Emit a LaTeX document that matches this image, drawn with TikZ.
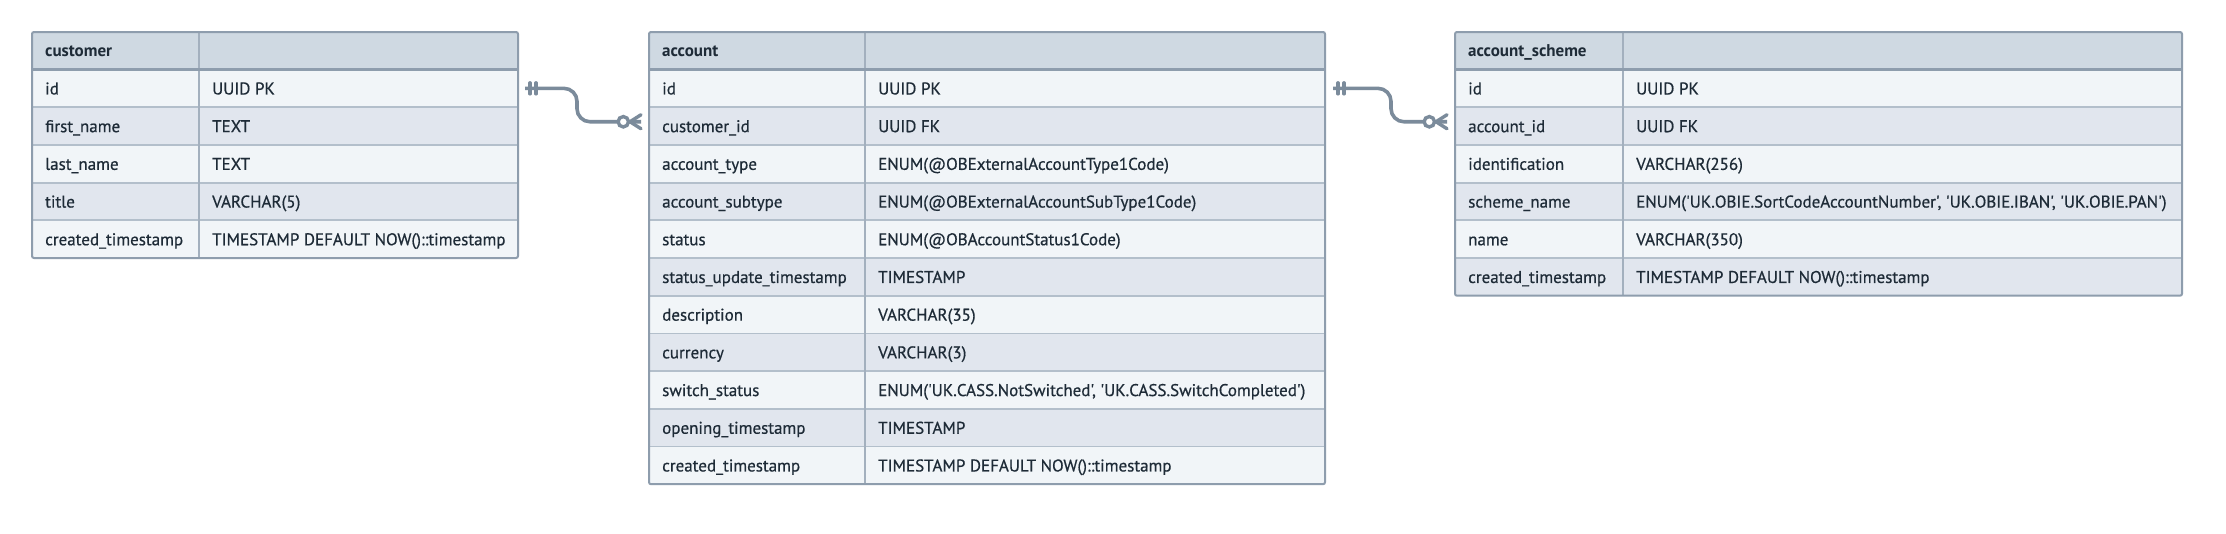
\documentclass[tikz,border=0pt]{standalone}
\usepackage{fontspec}
\newfontfamily\erfont{PT Sans}
\newfontfamily\erfontm[FakeBold=0.6]{PT Sans}
\usetikzlibrary{calc}
\definecolor{hdr}{HTML}{CFD9E2}
\definecolor{rowa}{HTML}{F1F5F8}
\definecolor{rowb}{HTML}{E1E6EE}
\definecolor{bord}{HTML}{8E9DAD}
\definecolor{sepc}{HTML}{B3BFCB}
\definecolor{divc}{HTML}{A3B0BE}
\definecolor{ink}{HTML}{1E2B37}
\definecolor{connc}{HTML}{7B8B9B}
\tikzset{
 cell/.style={rectangle, inner sep=0pt, outer sep=0pt, anchor=north west, minimum height=37.7pt, draw=none},
 txt/.style={anchor=base west, inner sep=0pt, text=ink, font=\erfontm\fontsize{17}{20}\selectfont},
 htxt/.style={txt, font=\erfont\bfseries\fontsize{17}{20}\selectfont},
 rsep/.style={draw=sepc, line width=1.8pt},
 hsep/.style={draw=bord, line width=2.4pt},
 coldiv/.style={draw=divc, line width=2pt},
 tborder/.style={draw=bord, line width=2pt, rounded corners=2pt},
 conn/.style={draw=connc, line width=3.6pt},
 tick/.style={draw=connc, line width=3.4pt, line cap=round},
 ring/.style={draw=connc, fill=white, line width=3.4pt},
}
% #1 name, #2 x0, #3 xd, #4 x1, #5 y0, #6 title, #7 n rows, #8 rows
\newcommand\ertable[8]{%
 \node[cell, fill=hdr, minimum width={#3pt-#2pt}, minimum height=37.5pt] (#1-k0) at (#2,#5) {};
 \node[cell, fill=hdr, minimum width={#4pt-#3pt}, minimum height=37.5pt] (#1-v0) at (#3,#5) {};
 \node[htxt] (#1-t0) at ([xshift=13pt,yshift=-6.1pt]#1-k0.west) {#6};
 \foreach \i/\k/\v in {#8} {
   \pgfmathsetmacro\yy{#5+37.5+(\i-1)*37.7}
   \pgfmathtruncatemacro\odd{mod(\i,2)}
   \ifnum\odd=1 \def\rf{rowa}\else\def\rf{rowb}\fi
   \node[cell, fill=\rf, minimum width={#3pt-#2pt}] (#1-k\i) at (#2,\yy) {};
   \node[cell, fill=\rf, minimum width={#4pt-#3pt}] (#1-v\i) at (#3,\yy) {};
   \node[txt] (#1-tk\i) at ([xshift=13pt,yshift=-6.1pt]#1-k\i.west) {\k};
   \node[txt] (#1-tv\i) at ([xshift=13pt,yshift=-6.1pt]#1-v\i.west) {\v};
 }
 \foreach \i in {2,...,#7} {\draw[rsep] (#1-k\i.north west) -- (#1-v\i.north east);}
 \draw[coldiv] (#1-k0.north east) -- (#1-k#7.south east);
 \draw[hsep] (#1-k0.south west) -- (#1-v0.south east);
 \draw[tborder] (#1-k0.north west) rectangle (#1-v#7.south east);
}
\begin{document}
\begin{tikzpicture}[x=1pt,y=-1pt]
\useasboundingbox[fill=white] (0,0) rectangle (2226,533);

\ertable{cust}{32}{199}{518}{32}{customer}{5}{%
 1/id/UUID PK,
 2/first\_name/TEXT,
 3/last\_name/TEXT,
 4/title/VARCHAR(5),
 5/created\_timestamp/TIMESTAMP DEFAULT NOW()::timestamp}

\ertable{acc}{649}{865}{1325}{32}{account}{11}{%
 1/id/UUID PK,
 2/customer\_id/UUID FK,
 3/account\_type/ENUM(@OBExternalAccountType1Code),
 4/account\_subtype/ENUM(@OBExternalAccountSubType1Code),
 5/status/ENUM(@OBAccountStatus1Code),
 6/status\_update\_timestamp/TIMESTAMP,
 7/description/VARCHAR(35),
 8/currency/VARCHAR(3),
 9/switch\_status/{ENUM('UK.CASS.NotSwitched', 'UK.CASS.SwitchCompleted')},
 10/opening\_timestamp/TIMESTAMP,
 11/created\_timestamp/TIMESTAMP DEFAULT NOW()::timestamp}

\ertable{sch}{1455}{1623}{2182}{32}{account\_scheme}{6}{%
 1/id/UUID PK,
 2/account\_id/UUID FK,
 3/identification/VARCHAR(256),
 4/scheme\_name/{ENUM('UK.OBIE.SortCodeAccountNumber', 'UK.OBIE.IBAN', 'UK.OBIE.PAN')},
 5/name/VARCHAR(350),
 6/created\_timestamp/TIMESTAMP DEFAULT NOW()::timestamp}

% connector customer.id -> account.customer_id
\coordinate (c1a) at ([xshift=7pt]cust-v1.east);
\coordinate (c1b) at ([xshift=-8pt,yshift=4.3pt]acc-k2.west);
\coordinate (c1m) at (577,0);
\draw[conn, rounded corners=13pt] (c1a) -- (c1a -| c1m) -- (c1b -| c1m) -- (c1b);
\draw[tick] ([xshift=5pt,yshift=5.5pt]c1a) -- ([xshift=5pt,yshift=-5.5pt]c1a);
\draw[tick] ([xshift=11pt,yshift=5.5pt]c1a) -- ([xshift=11pt,yshift=-5.5pt]c1a);
\draw[ring] ([xshift=-17.7pt]c1b) circle[radius=5.2pt];
\draw[tick] ([xshift=-11pt]c1b) -- ([yshift=7pt]c1b);
\draw[tick] ([xshift=-11pt]c1b) -- ([yshift=-7pt]c1b);

% connector account.id -> account_scheme.account_id
\coordinate (c2a) at ([xshift=8pt]acc-v1.east);
\coordinate (c2b) at ([xshift=-8pt,yshift=4.3pt]sch-k2.west);
\coordinate (c2m) at (1391,0);
\draw[conn, rounded corners=13pt] (c2a) -- (c2a -| c2m) -- (c2b -| c2m) -- (c2b);
\draw[tick] ([xshift=5pt,yshift=5.5pt]c2a) -- ([xshift=5pt,yshift=-5.5pt]c2a);
\draw[tick] ([xshift=11pt,yshift=5.5pt]c2a) -- ([xshift=11pt,yshift=-5.5pt]c2a);
\draw[ring] ([xshift=-17.7pt]c2b) circle[radius=5.2pt];
\draw[tick] ([xshift=-11pt]c2b) -- ([yshift=7pt]c2b);
\draw[tick] ([xshift=-11pt]c2b) -- ([yshift=-7pt]c2b);
\end{tikzpicture}
\end{document}
